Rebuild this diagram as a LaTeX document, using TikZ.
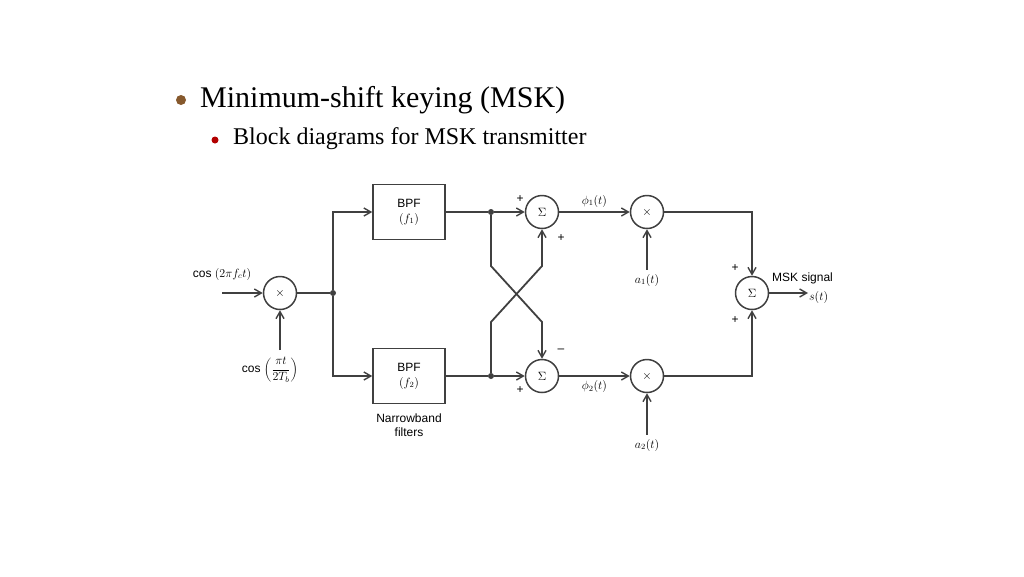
\documentclass[tikz,border=0pt]{standalone}
\usepackage{fontspec}
\setmainfont{Liberation Serif}
\setsansfont{Liberation Sans}
\usetikzlibrary{arrows.meta}
\definecolor{ln}{HTML}{404040}
\begin{document}
\begin{tikzpicture}[x=1pt,y=-1pt,
  wire/.style={draw=ln,line width=1.8pt},
  arr/.style={wire,-{Straight Barb[length=7pt,width=8pt,line width=1.4pt]}},
  circ/.style={circle,draw=ln,line width=1.5pt,minimum size=33pt,inner sep=0pt,font=\sffamily\fontsize{13}{15}\selectfont},
  box/.style={rectangle,draw=ln,line width=1.5pt,minimum width=72pt,minimum height=55pt,align=center,font=\sffamily\fontsize{12}{15}\selectfont,inner sep=1pt},
  lab/.style={font=\sffamily\fontsize{12}{14}\selectfont,inner sep=1pt},
  dot/.style={circle,fill=ln,inner sep=0pt,minimum size=6pt}]
\useasboundingbox (0,0) rectangle (1024,576);
% title
\fill[brown!70!black] (181,100) circle (5pt);
\node[anchor=west,font=\fontsize{30}{32}\selectfont,inner sep=0pt] (t1) at (200,100) {Minimum-shift keying (MSK)};
\fill[red!70!black] (215,140) circle (3.5pt);
\node[anchor=west,font=\fontsize{24}{26}\selectfont,inner sep=0pt] (t2) at (233,139) {Block diagrams for MSK transmitter};
% nodes
\node[circ] (m1) at (280,293) {$\times$};
\node[box] (b1) at (409,212) {BPF\\$(f_1)$};
\node[box] (b2) at (409,376) {BPF\\$(f_2)$};
\node[dot] (j0) at (333,293) {};
\node[dot] (j1) at (491,212) {};
\node[dot] (j2) at (491,376) {};
\node[circ] (s1) at (542,212) {$\Sigma$};
\node[circ] (s2) at (542,376) {$\Sigma$};
\node[circ] (m2) at (647,212) {$\times$};
\node[circ] (m3) at (647,376) {$\times$};
\node[circ] (s3) at (752,293) {$\Sigma$};
% input labels
\coordinate (in1) at (222,293);
\node[lab] (l1) at (222,274) {cos $(2\pi f_c t)$};
\node[lab] (l2) at (270,370) {cos $\left(\displaystyle\frac{\pi t}{2T_b}\right)$};
\coordinate (in2) at (280,350);
\draw[arr] (in1) -- (m1);
\draw[arr] (in2) -- (m1);
\draw[wire] (m1) -- (j0);
\draw[arr] (j0) |- (b1);
\draw[arr] (j0) |- (b2);
\node[lab,align=center] (nb) at (409,425) {Narrowband\\filters};
\draw[wire] (b1) -- (j1);
\draw[wire] (b2) -- (j2);
\draw[arr] (j1) -- (s1);
\draw[arr] (j2) -- (s2);
\draw[arr] (j1) -- (491,266) -- (542,322) -- (s2);
\draw[arr] (j2) -- (491,322) -- (542,266) -- (s1);
\node[lab] at (520,199) {+};
\node[lab] at (561,238) {+};
\node[lab] at (561,351) {--};
\node[lab] at (520,390) {+};
\draw[arr] (s1) -- node[lab,above=3pt]{$\phi_1(t)$} (m2);
\draw[arr] (s2) -- node[lab,below=3pt]{$\phi_2(t)$} (m3);
\node[lab] (a1) at (647,280) {$a_1(t)$};
\node[lab] (a2) at (647,445) {$a_2(t)$};
\draw[arr] (a1.north) ++(0,-3) -- (m2);
\draw[arr] (a2.north) ++(0,-3) -- (m3);
\draw[arr] (m2) -| (s3);
\draw[arr] (m3) -| (s3);
\node[lab] at (735,268) {+};
\node[lab] at (735,320) {+};
\coordinate (out) at (808,293);
\draw[arr] (s3) -- (out);
\node[lab,anchor=south west] at (771,285) {MSK signal};
\node[lab,anchor=west] at (808,297) {$s(t)$};
\end{tikzpicture}
\end{document}
